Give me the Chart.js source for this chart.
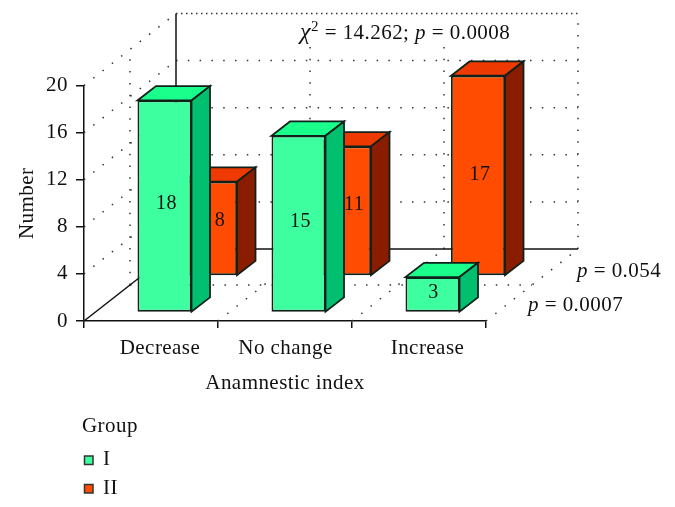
<!DOCTYPE html>
<html>
<head>
<meta charset="utf-8">
<style>
  html, body { margin: 0; padding: 0; background: #fff; }
  #wrap { width: 675px; height: 507px; }
</style>
<script src="https://cdn.jsdelivr.net/npm/chart.js@4"></script>
</head>
<body>
<div id="wrap"><canvas id="anamnesticChart" width="675" height="507"></canvas></div>
<script>
const categories = ["Decrease", "No change", "Increase"];
const groupI = [18, 15, 3];
const groupII = [8, 11, 17];
const yTicks = [0, 4, 8, 12, 16, 20];
const seriesNames = ["I", "II"];

const serif = "'Liberation Serif', serif";
const fontSize = 21;
const tracking = "0.45px";
const edgeWidth = 1.8;

// floor depth, from the front axis corner to the back wall
const depth = { x: 92, y: -72 };
// how far the front face of each group sits from the front axis, and bar depth
const rowShift = [{ x: 13.5, y: -8.6 }, { x: 59, y: -45.1 }];
const barDepth = { x: 18.5, y: -14.3 };
// small nudges so a label stays on the visible part of its bar
const labelNudge = [
  [{ x: 2, y: -2.5 }, { x: 2, y: -1.5 }, { x: 1, y: -2 }],
  [{ x: 10, y: -8 }, { x: 10, y: -6 }, { x: 2, y: -1 }]
];
const xLabelShift = [9, 0.5, 8.5];

const faces = [
  { front: "#3dff9f", top: "#1aff8c", side: "#00c070" },
  { front: "#ff4c00", top: "#ee3a00", side: "#8a1c00" }
];
const edge = "#10201a";

function dotted(ctx, x1, y1, x2, y2, dash) {
  ctx.save();
  ctx.strokeStyle = "#333";
  ctx.lineWidth = 1.5;
  ctx.setLineDash(dash || [1.5, 10.3]);
  ctx.beginPath();
  ctx.moveTo(x1, y1);
  ctx.lineTo(x2, y2);
  ctx.stroke();
  ctx.restore();
}

function solid(ctx, x1, y1, x2, y2) {
  ctx.save();
  ctx.strokeStyle = "#111";
  ctx.lineWidth = 1.5;
  ctx.beginPath();
  ctx.moveTo(x1, y1);
  ctx.lineTo(x2, y2);
  ctx.stroke();
  ctx.restore();
}

function poly(ctx, pts, fill) {
  ctx.beginPath();
  ctx.moveTo(pts[0][0], pts[0][1]);
  pts.slice(1).forEach(p => ctx.lineTo(p[0], p[1]));
  ctx.closePath();
  ctx.fillStyle = fill;
  ctx.fill();
  ctx.strokeStyle = edge;
  ctx.lineWidth = edgeWidth;
  ctx.stroke();
}

// text made of plain / italic / superscript runs
function runs(ctx, x, y, parts) {
  ctx.save();
  ctx.fillStyle = "#111";
  ctx.textBaseline = "alphabetic";
  ctx.textAlign = "left";
  parts.forEach(p => {
    const size = p.sup ? 15 : (p.size || fontSize);
    ctx.font = (p.italic ? "italic " : "") + size + "px " + serif;
    ctx.fillText(p.text, x, p.sup ? y - 8 : y);
    x += ctx.measureText(p.text).width;
  });
  ctx.restore();
}

const walls = {
  id: "walls",
  beforeDatasetsDraw(chart) {
    const ctx = chart.ctx;
    const xs = chart.scales.x;
    const ys = chart.scales.y;
    const y0 = ys.getPixelForValue(0);
    const yTop = ys.getPixelForValue(20);
    const step = (xs.right - xs.left) / categories.length;

    yTicks.slice(1).forEach(v => {
      const py = ys.getPixelForValue(v);
      dotted(ctx, xs.left, py, xs.left + depth.x, py + depth.y);
      if (v === 20) {
        dotted(ctx, xs.left + depth.x, py + depth.y, xs.right + depth.x, py + depth.y, [1.5, 3.5]);
      } else {
        dotted(ctx, xs.left + depth.x, py + depth.y, xs.right + depth.x, py + depth.y);
      }
    });

    for (let i = 1; i <= categories.length; i++) {
      const px = xs.left + i * step;
      dotted(ctx, px, y0, px + depth.x, y0 + depth.y);
      dotted(ctx, px + depth.x, y0 + depth.y, px + depth.x, yTop + depth.y);
    }

    // middle lines of the left wall and the floor
    const midX = xs.left + depth.x / 2;
    const midY = y0 + depth.y / 2;
    dotted(ctx, midX, midY, midX, yTop + depth.y / 2);
    dotted(ctx, midX, midY, xs.right + depth.x / 2, midY);

    solid(ctx, xs.left, y0, xs.left + depth.x, y0 + depth.y);
    solid(ctx, xs.left + depth.x, y0 + depth.y, xs.left + depth.x, yTop + depth.y);
    solid(ctx, xs.left + depth.x, y0 + depth.y, xs.right + depth.x, y0 + depth.y);

    // the statistics note sits on a white box over the back wall
    ctx.fillStyle = "#fff";
    ctx.fillRect(296, 19, 218, 27);
    runs(ctx, 300, 39, [
      { text: "χ", italic: true, size: 24 }, { text: "2", sup: true }, { text: " = 14.262; " },
      { text: "p", italic: true }, { text: " = 0.0008" }
    ]);
    runs(ctx, 577, 277, [{ text: "p", italic: true }, { text: " = 0.054" }]);
    runs(ctx, 528, 311, [{ text: "p", italic: true }, { text: " = 0.0007" }]);
  }
};

// draws top and side of each box, then moves the canvas so the library's bar is the front face
const boxes = {
  id: "boxes",
  beforeDatasetDraw(chart, args) {
    const ctx = chart.ctx;
    const shift = rowShift[args.index];
    const col = faces[args.index];
    ctx.save();
    ctx.translate(shift.x, shift.y);
    args.meta.data.forEach(bar => {
      const l = bar.x - bar.width / 2;
      const r = bar.x + bar.width / 2;
      const t = bar.y;
      const b = bar.base;
      const d = barDepth;
      poly(ctx, [[l, t], [r, t], [r + d.x, t + d.y], [l + d.x, t + d.y]], col.top);
      poly(ctx, [[r, t], [r + d.x, t + d.y], [r + d.x, b + d.y], [r, b]], col.side);
    });
  },
  afterDatasetDraw(chart) {
    chart.ctx.restore();
  },
  afterDatasetsDraw(chart) {
    const ctx = chart.ctx;
    ctx.save();
    ctx.font = "20px " + serif;
    ctx.fillStyle = "#111";
    ctx.textAlign = "center";
    ctx.textBaseline = "middle";
    chart.data.datasets.forEach((ds, i) => {
      chart.getDatasetMeta(i).data.forEach((bar, j) => {
        const cx = bar.x + rowShift[i].x + labelNudge[i][j].x;
        const cy = (bar.y + bar.base) / 2 + rowShift[i].y + labelNudge[i][j].y;
        ctx.fillText(String(ds.data[j]), cx, cy);
      });
    });
    ctx.restore();
  }
};

const sideNotes = {
  id: "sideNotes",
  beforeDraw(chart) {
    chart.ctx.letterSpacing = tracking;
    // category labels are not evenly placed in the original
    const xs = chart.scales.x;
    xs.getLabelItems().forEach((item, i) => {
      item.options.translation[0] = xs.getPixelForTick(i) + xLabelShift[i];
    });
  },
  afterDraw(chart) {
    const ctx = chart.ctx;
    ctx.save();
    ctx.fillStyle = "#111";
    ctx.font = fontSize + "px " + serif;
    ctx.textBaseline = "alphabetic";
    ctx.fillText("Group", 82, 432);
    seriesNames.forEach((name, i) => {
      const y = 456 + i * 28.5;
      ctx.fillStyle = faces[i].front;
      ctx.strokeStyle = "#333";
      ctx.lineWidth = 1.5;
      ctx.fillRect(84.5, y, 8.5, 8.5);
      ctx.strokeRect(84.5, y, 8.5, 8.5);
      ctx.fillStyle = "#111";
      ctx.fillText(name, 103, y + 9);
    });
    ctx.restore();
  }
};

new Chart(document.getElementById("anamnesticChart"), {
  type: "bar",
  data: {
    labels: categories,
    datasets: [
      {
        label: seriesNames[0],
        data: groupI,
        backgroundColor: faces[0].front,
        borderColor: edge,
        borderWidth: edgeWidth,
        borderSkipped: false,
        clip: false
      },
      {
        label: seriesNames[1],
        data: groupII,
        backgroundColor: faces[1].front,
        borderColor: edge,
        borderWidth: edgeWidth,
        borderSkipped: false,
        clip: false
      }
    ]
  },
  plugins: [walls, boxes, sideNotes],
  options: {
    responsive: false,
    animation: false,
    layout: { padding: { top: 85.5, right: 189, left: 0, bottom: 0 } },
    datasets: { bar: { grouped: false, barPercentage: 0.403, categoryPercentage: 1 } },
    scales: {
      x: {
        grid: { drawOnChartArea: false, color: "#111", tickLength: 7, lineWidth: 1.5 },
        border: { color: "#111", width: 1.5 },
        ticks: { color: "#111", font: { family: serif, size: fontSize }, padding: 8, maxRotation: 0 },
        title: {
          display: true,
          text: "Anamnestic index",
          color: "#111",
          font: { family: serif, size: fontSize },
          padding: { top: 4, bottom: 111 }
        },
        afterFit(scale) { scale.height = 186; }
      },
      y: {
        min: 0,
        max: 20,
        grid: { drawOnChartArea: false, color: "#111", tickLength: 8, lineWidth: 1.5 },
        border: { color: "#111", width: 1.5 },
        ticks: {
          color: "#111",
          font: { family: serif, size: fontSize },
          padding: 8,
          stepSize: 4
        },
        title: {
          display: true,
          text: "Number",
          color: "#111",
          font: { family: serif, size: fontSize },
          padding: { top: 15, bottom: 0 }
        },
        afterFit(scale) { scale.width = 84; }
      }
    },
    plugins: {
      legend: { display: false },
      tooltip: { enabled: false }
    }
  }
});
</script>
</body>
</html>
